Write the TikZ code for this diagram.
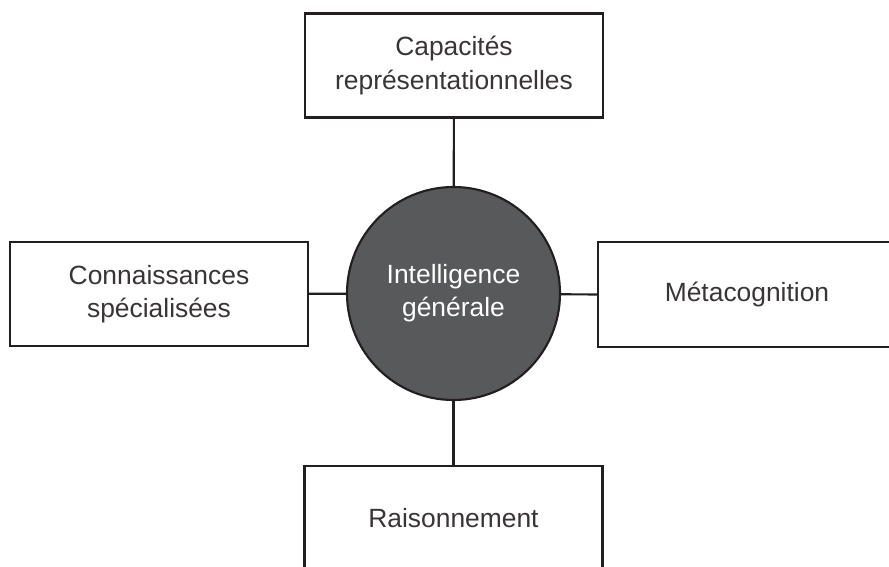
\documentclass[tikz,border=0pt]{standalone}
\usepackage{fontspec}
\setmainfont{Liberation Sans}
\definecolor{ink}{HTML}{231F20}
\definecolor{disc}{HTML}{58595B}
\begin{document}
\begin{tikzpicture}[x=0.75pt,y=-0.75pt,
  boxtext/.style={minimum width=298*0.75pt,minimum height=104*0.75pt,inner sep=0pt,align=center,font=\fontsize{19.8pt}{24.8pt}\selectfont,text=ink!90},
  box/.style={boxtext,draw=ink,line width=1.6pt,fill=white},
  link/.style={draw=ink,line width=1.6pt}]
\useasboundingbox (0,0) rectangle (889,567);
\clip (0,0) rectangle (889,567);
\node[circle,draw=ink,line width=1.6pt,fill=disc,minimum size=213*0.75pt,inner sep=0pt,align=center,text=white,font=\fontsize{19.8pt}{24.8pt}\selectfont] (c) at (453.5,293.5) {Intelligence\\générale};
\node[box] (t) at (454,65.5) {Capacités\\représentationnelles};
\node[box] (l) at (159,294) {Connaissances\\spécialisées};
\node[boxtext] (r) at (747,294.5) {Métacognition};
\draw[ink,line width=1.6pt] ([xshift=40]r.north east) -- (r.north west) -- (r.south west) -- ([xshift=40]r.south east);
\node[box] (b) at (453.5,518) {Raisonnement};
\draw[link] (t) -- (c);
\draw[link] (l) -- (c);
\draw[link] (r.west) -- (c);
\draw[link] (b) -- (c);
\end{tikzpicture}
\end{document}
